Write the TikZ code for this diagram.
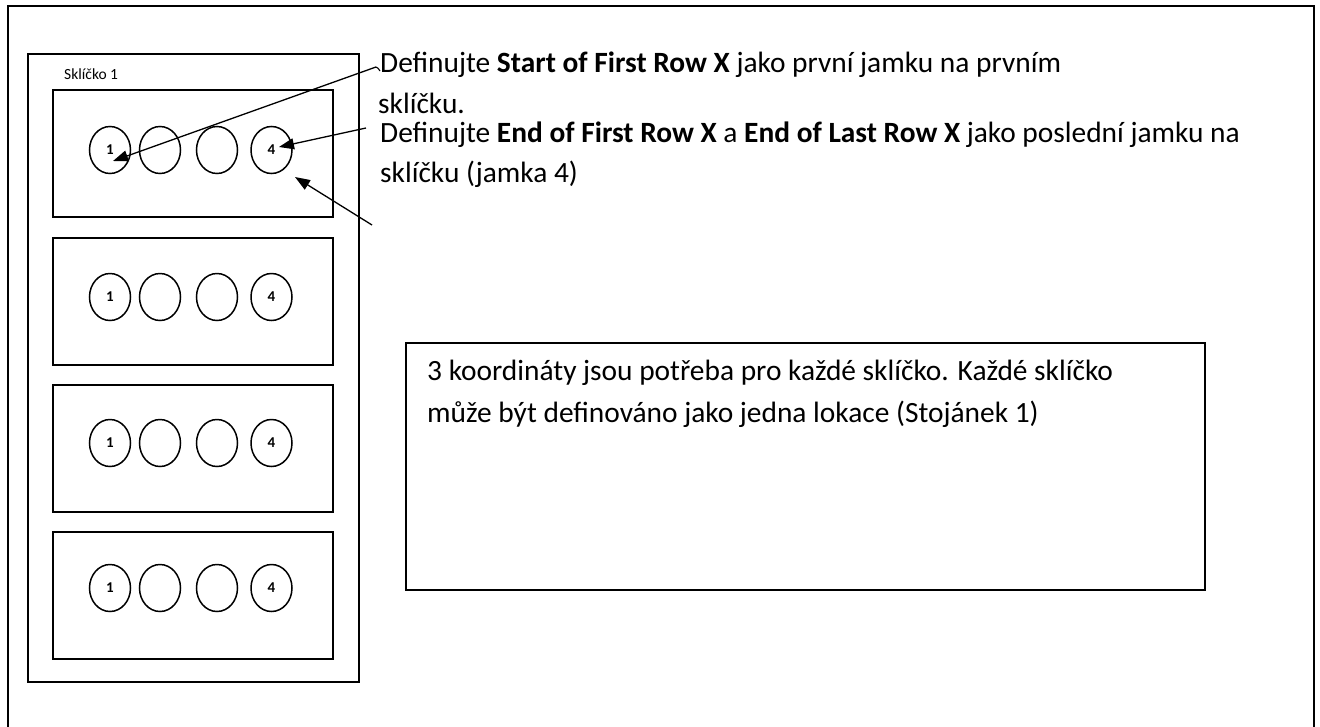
\documentclass[tikz,border=0pt]{standalone}
\usepackage{fontspec}
\setmainfont{Carlito}
\usetikzlibrary{arrows.meta,shapes.geometric}
\begin{document}
\begin{tikzpicture}[x=1pt,y=-1pt,
  frame/.style={draw=black,line width=1.4pt},
  slidebox/.style={draw=black,line width=1.5pt},
  well/.style={draw=black,line width=1.5pt,ellipse,minimum width=41pt,minimum height=47pt,inner sep=0pt,font=\fontsize{15}{15}\selectfont\bfseries},
  maintext/.style={anchor=base west,inner sep=0pt,font=\fontsize{29.4}{29.4}\selectfont},
  pointer/.style={draw=black,line width=1.3pt,-{Triangle[length=15pt,width=11pt]}}
]
\useasboundingbox (0,0) rectangle (1320,726);
% outer frame
\draw[frame] (8,760) -- (8,6) -- (1314,6) -- (1314,760);
% rack
\draw[frame] (28,54) rectangle (359,682);
\node[anchor=base west,inner sep=0pt,font=\fontsize{15.5}{15.5}\selectfont] (lbl) at (64,79) {Sklíčko 1};
% slides
\foreach \t/\c [count=\k] in {90/150, 238/297, 385/443, 532/588}{
  \draw[slidebox] (53,\t) rectangle (333,\t+127);
  \node[well] (w\k a) at (110,\c) {1};
  \node[well] (w\k b) at (160,\c) {};
  \node[well] (w\k c) at (217,\c) {};
  \node[well] (w\k d) at (271.5,\c) {4};
}
% texts
\node[maintext] (t1) at (380,72) {Definujte \textbf{Start of First Row X} jako první jamku na prvním};
\node[maintext] (t2) at (378,113) {sklíčku.};
\node[maintext] (t3) at (380,142) {Definujte \textbf{End of First Row X} a \textbf{End of Last Row X} jako poslední jamku na};
\node[maintext] (t4) at (380,182) {sklíčku (jamka 4)};
% box
\node[draw=black,line width=1.6pt,minimum width=799pt,minimum height=247pt,inner sep=0pt,anchor=north west] (box) at (405,342) {};
\node[maintext] (b1) at (427,380) {3 koordináty jsou potřeba pro každé sklíčko. Každé sklíčko};
\node[maintext] (b2) at (427,422) {může být definováno jako jedna lokace (Stojánek 1)};
% arrows
\coordinate (s1) at (376,67);
\coordinate (e1) at (113,161);
\coordinate (s2) at (366,128);
\coordinate (e2) at (279,147);
\coordinate (s3) at (372,225);
\coordinate (e3) at (295,177);
\draw[line width=1.1pt] (t1.base west) ++(0,-1) coordinate (h1) .. controls (378,68) .. (s1);
\draw[pointer] (s1) -- (e1);
\draw[pointer] (s2) -- (e2);
\draw[pointer] (s3) -- (e3);
\end{tikzpicture}
\end{document}
